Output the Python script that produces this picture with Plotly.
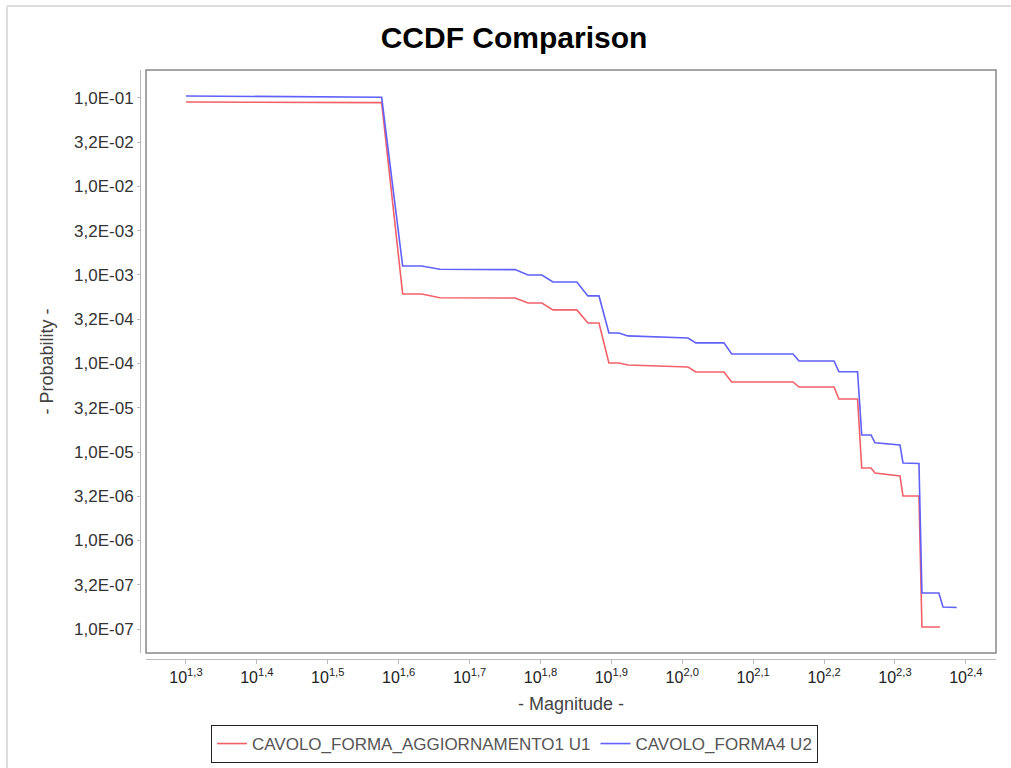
import plotly.graph_objects as go

# ---- data ----
u1_name = "CAVOLO_FORMA_AGGIORNAMENTO1 U1"
u1_x = [19.95, 37.67, 40.33, 42.9, 45.5, 58.1, 60.6, 63.4, 65.7, 71.0, 73.6, 76.3,
        78.8, 81.4, 83.8, 101.9, 104.5, 114.5, 117.4, 143.3, 146.1, 163.7, 166.3,
        176.7, 179.1, 184.6, 187.0, 202.8, 204.8, 215.7, 217.8, 231.0]
u1_y = [0.0901, 0.0885, 6.1e-4, 6.1e-4, 5.53e-4, 5.5e-4, 4.83e-4, 4.83e-4, 4.03e-4,
        4.03e-4, 2.87e-4, 2.87e-4, 1.014e-4, 1.014e-4, 9.62e-5, 9.12e-5, 8.02e-5,
        8.02e-5, 6.18e-5, 6.18e-5, 5.42e-5, 5.42e-5, 3.97e-5, 3.97e-5, 6.59e-6,
        6.59e-6, 5.79e-6, 5.36e-6, 3.18e-6, 3.18e-6, 1.055e-7, 1.055e-7]

u2_name = "CAVOLO_FORMA4 U2"
u2_x = [19.95, 37.67, 40.33, 42.9, 45.5, 58.1, 60.6, 63.4, 65.7, 71.0, 73.6, 76.3,
        78.8, 81.4, 83.8, 101.9, 104.5, 114.5, 117.4, 143.3, 146.1, 163.7, 166.3,
        176.7, 179.1, 184.6, 187.0, 202.8, 204.8, 215.7, 217.8, 230.1, 233.2, 243.8]
u2_y = [0.1054, 0.1018, 1.264e-3, 1.264e-3, 1.16e-3, 1.15e-3, 1.0e-3, 1.0e-3, 8.34e-4,
        8.34e-4, 5.8e-4, 5.8e-4, 2.21e-4, 2.21e-4, 2.05e-4, 1.94e-4, 1.71e-4, 1.71e-4,
        1.28e-4, 1.28e-4, 1.067e-4, 1.067e-4, 8.07e-5, 8.07e-5, 1.556e-5, 1.556e-5,
        1.27e-5, 1.2e-5, 7.52e-6, 7.4e-6, 2.55e-7, 2.55e-7, 1.77e-7, 1.75e-7]

x_tick_vals = [10 ** 1.3, 10 ** 1.4, 10 ** 1.5, 10 ** 1.6, 10 ** 1.7, 10 ** 1.8,
               10 ** 1.9, 10 ** 2.0, 10 ** 2.1, 10 ** 2.2, 10 ** 2.3, 10 ** 2.4]
x_tick_text = ["10<sup>1,3</sup>", "10<sup>1,4</sup>", "10<sup>1,5</sup>", "10<sup>1,6</sup>",
               "10<sup>1,7</sup>", "10<sup>1,8</sup>", "10<sup>1,9</sup>", "10<sup>2,0</sup>",
               "10<sup>2,1</sup>", "10<sup>2,2</sup>", "10<sup>2,3</sup>", "10<sup>2,4</sup>"]
y_tick_vals = [1e-1, 10 ** -1.5, 1e-2, 10 ** -2.5, 1e-3, 10 ** -3.5, 1e-4, 10 ** -4.5,
               1e-5, 10 ** -5.5, 1e-6, 10 ** -6.5, 1e-7]
y_tick_text = ["1,0E-01", "3,2E-02", "1,0E-02", "3,2E-03", "1,0E-03", "3,2E-04", "1,0E-04",
               "3,2E-05", "1,0E-05", "3,2E-06", "1,0E-06", "3,2E-07", "1,0E-07"]

# ---- figure ----
fig = go.Figure()
fig.add_trace(go.Scatter(x=u1_x, y=u1_y, mode="lines", name=u1_name,
                         line=dict(color="rgb(242,96,104)", width=1.6)))
fig.add_trace(go.Scatter(x=u2_x, y=u2_y, mode="lines", name=u2_name,
                         line=dict(color="rgb(96,96,250)", width=1.6)))

W, H = 1011, 768
ml, mr, mt, mb = 140, 15, 70, 109
pw, ph = W - ml - mr, H - mt - mb
xd0 = 6 / pw
yd0 = 6 / ph
FONT = "Liberation Sans, Arial"

fig.update_layout(
    width=W, height=H,
    margin=dict(l=ml, r=mr, t=mt, b=mb, autoexpand=False),
    paper_bgcolor="white", plot_bgcolor="white",
    title=dict(text="<b>CCDF Comparison</b>", x=(514 - ml) / pw, xref="paper",
               xanchor="center", y=1 - 37 / H, yanchor="middle",
               font=dict(family=FONT, size=30, color="black")),
    xaxis=dict(type="log", range=[1.2436, 2.4425], domain=[xd0, 1],
               anchor="free", position=0, automargin=False,
               tickvals=x_tick_vals, ticktext=x_tick_text,
               showgrid=False, zeroline=False,
               showline=True, linecolor="#bbbbbb", linewidth=1,
               ticks="outside", ticklen=4, tickcolor="#bbbbbb",
               tickfont=dict(family=FONT, size=16, color="#222222"),
               title=dict(text="- Magnitude -", standoff=12,
                          font=dict(family=FONT, size=18, color="#444444"))),
    yaxis=dict(type="log", range=[-7.271, -0.684], domain=[yd0, 1],
               anchor="free", position=0, automargin=False,
               tickvals=y_tick_vals, ticktext=y_tick_text,
               showgrid=False, zeroline=False,
               showline=True, linecolor="#bbbbbb", linewidth=1,
               ticks="outside", ticklen=3, tickcolor="#bbbbbb",
               tickfont=dict(family=FONT, size=17, color="#333333"),
               title=dict(text="- Probability -", standoff=14,
                          font=dict(family=FONT, size=18, color="#444444"))),
    legend=dict(orientation="h", x=(514.5 - ml) / pw, xanchor="center",
                y=-(725 - (H - mb)) / ph, yanchor="top",
                bordercolor="#222222", borderwidth=1, bgcolor="white",
                font=dict(family=FONT, size=17, color="#555555"),
                itemwidth=30, tracegroupgap=0),
    showlegend=True,
)

# plot box
fig.add_shape(type="rect", xref="paper", yref="paper", x0=xd0, x1=1, y0=yd0, y1=1,
              line=dict(color="#888888", width=1.5), layer="above")
# outer light frame
fig.add_shape(type="line", xref="paper", yref="paper",
              x0=(7 - ml) / pw, x1=(7 - ml) / pw, y0=1 + (mt - 6) / ph, y1=-(mb) / ph,
              line=dict(color="#dddddd", width=2))
fig.add_shape(type="line", xref="paper", yref="paper",
              x0=(7 - ml) / pw, x1=1 + mr / pw, y0=1 + (mt - 6) / ph, y1=1 + (mt - 6) / ph,
              line=dict(color="#dddddd", width=2))

fig.write_html("out.html")
